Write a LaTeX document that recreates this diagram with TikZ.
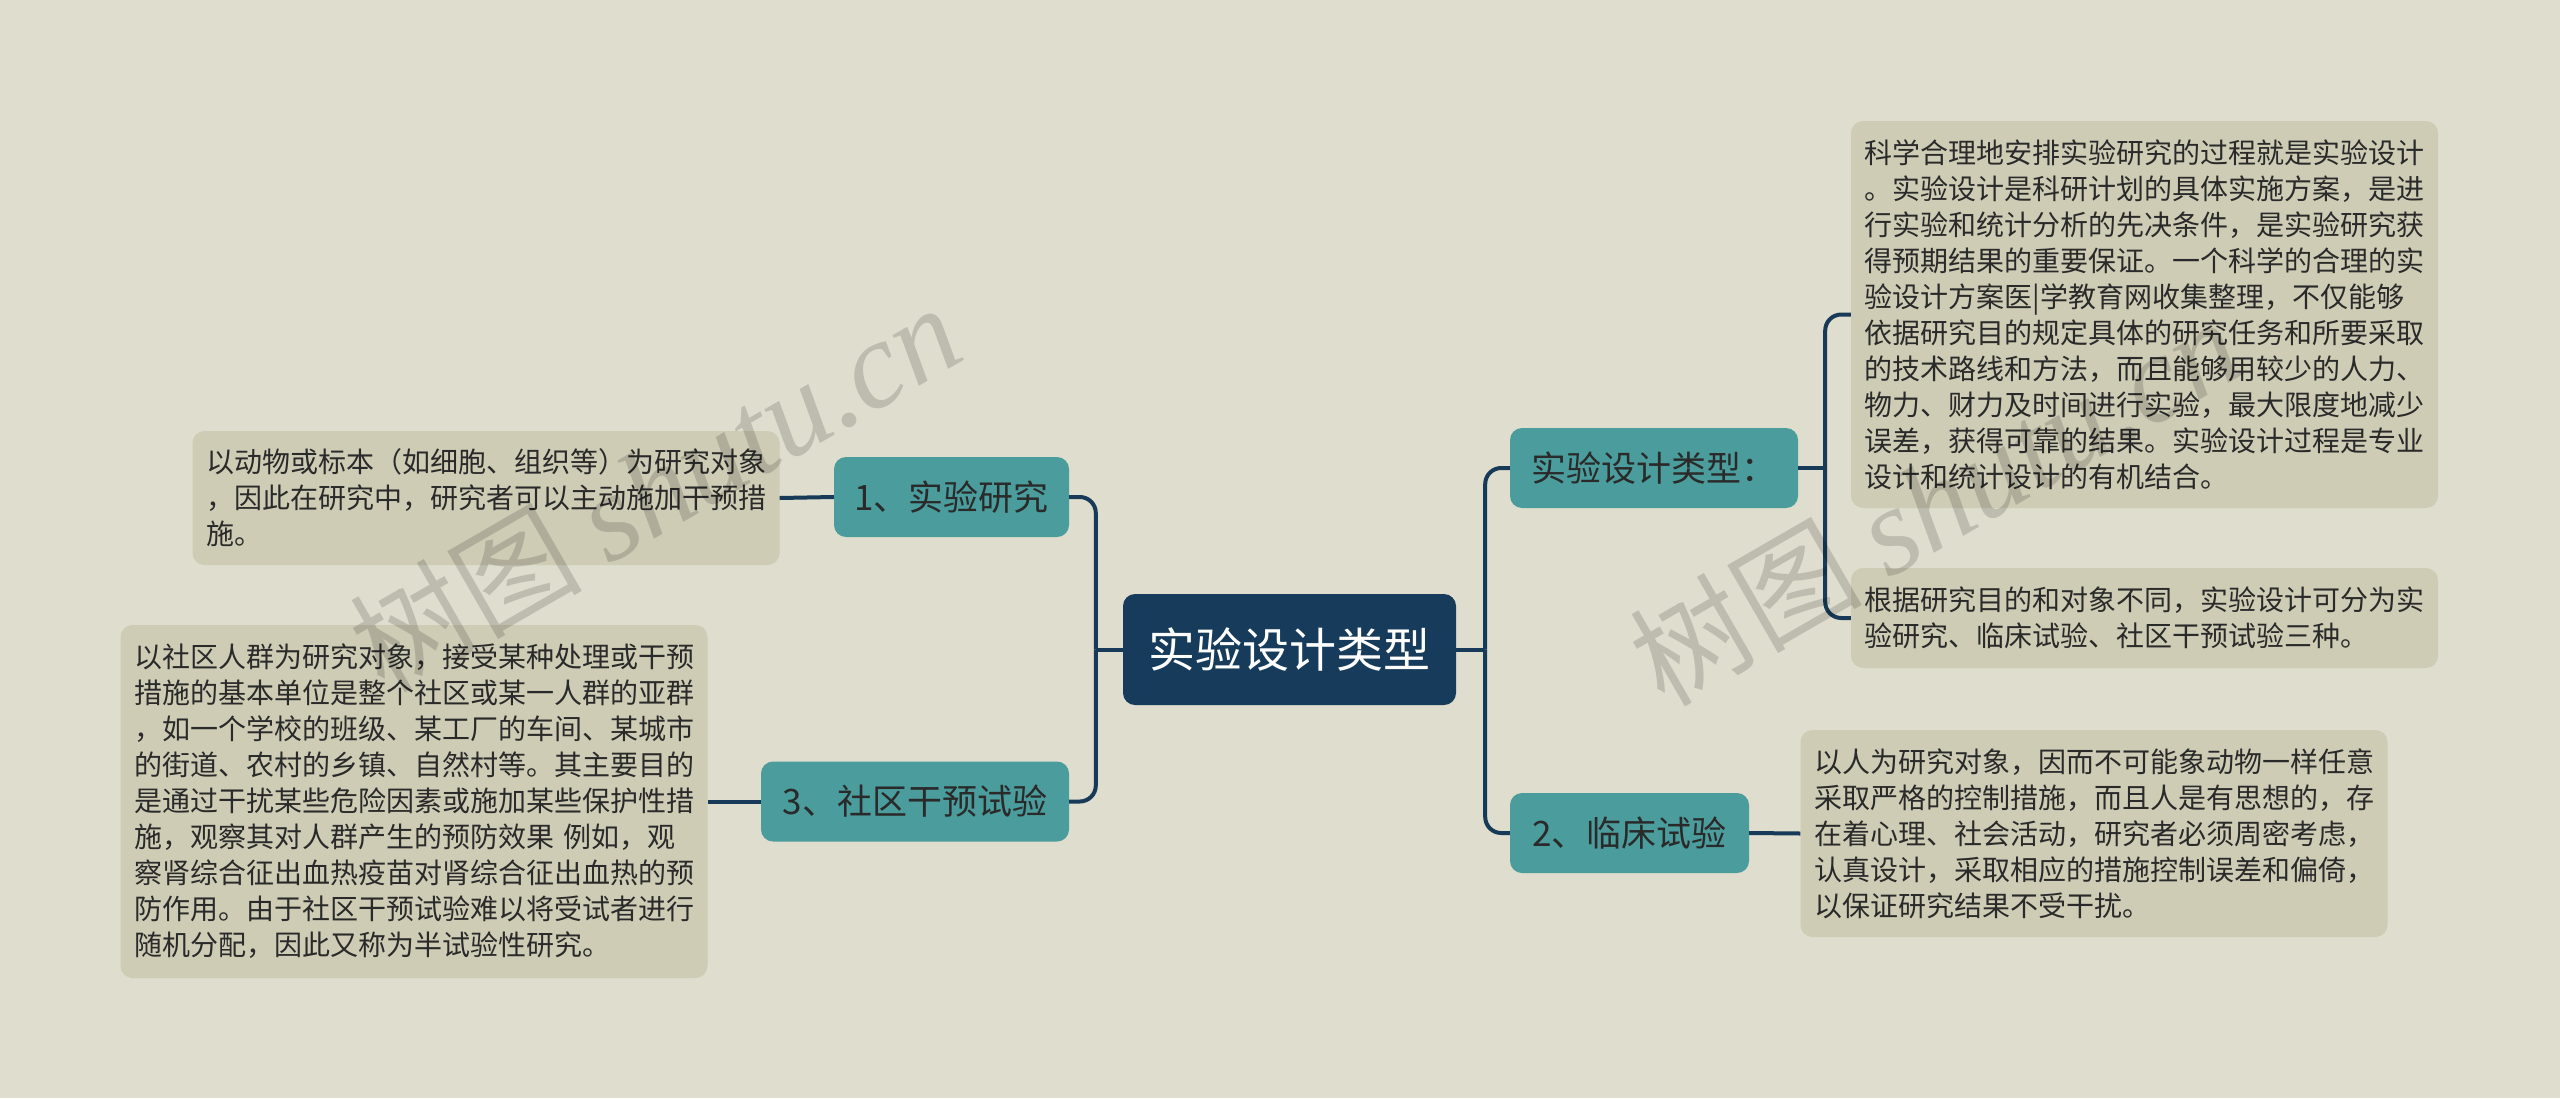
\documentclass[tikz,border=0pt]{standalone}
\usepackage{fontspec}
\newfontfamily\cjk{Noto Sans CJK SC}
\newfontfamily\wmserif{Liberation Serif}
\definecolor{bgc}{HTML}{DFDDCD}
\definecolor{boxc}{HTML}{CECCB5}
\definecolor{tealc}{HTML}{4B9C9C}
\definecolor{navyc}{HTML}{173C5B}
\definecolor{linec}{HTML}{163A58}
\definecolor{txtc}{HTML}{2A2A2A}
\tikzset{
  rootnode/.style={fill=navyc, rounded corners=12pt, inner sep=0pt, text=white,
    font=\cjk\fontsize{47}{56}\selectfont, minimum width=333pt, minimum height=111pt},
  subnode/.style={fill=tealc, rounded corners=12pt, inner sep=0pt, text=txtc,
    font=\cjk\fontsize{35}{42}\selectfont, minimum height=80pt},
  leafbox/.style={fill=boxc, rounded corners=12pt, inner xsep=13.5pt, inner ysep=0pt,
    text=txtc, font=\cjk\fontsize{28}{36}\selectfont, text width=560pt, align=left},
  conn/.style={draw=linec, line width=4pt, rounded corners=16pt},
  wmark/.style={text=black, text opacity=0.15, inner sep=0pt}
}
\begin{document}
\begin{tikzpicture}[x=1pt,y=-1pt]
\fill[bgc] (0,0) rectangle (2560,1098);
\useasboundingbox (0,0) rectangle (2560,1098);

% nodes
\node[rootnode] (c) at (1289.5,649.5) {实验设计类型};
\node[subnode, minimum width=288pt] (tA) at (1654,468) {实验设计类型：};
\node[subnode, minimum width=239pt] (t2) at (1629.5,833) {2、临床试验};
\node[subnode, minimum width=235pt] (t1) at (951.5,497) {1、实验研究};
\node[subnode, minimum width=308pt] (t3) at (915,801.5) {3、社区干预试验};

\node[leafbox, minimum height=387pt] (bA) at (2144.5,314.5) {科学合理地安排实验研究的过程就是实验设计\\。实验设计是科研计划的具体实施方案，是进\\行实验和统计分析的先决条件，是实验研究获\\得预期结果的重要保证。一个科学的合理的实\\验设计方案医|学教育网收集整理，不仅能够\\依据研究目的规定具体的研究任务和所要采取\\的技术路线和方法，而且能够用较少的人力、\\物力、财力及时间进行实验，最大限度地减少\\误差，获得可靠的结果。实验设计过程是专业\\设计和统计设计的有机结合。};
\node[leafbox, minimum height=100pt] (bB) at (2144.5,618) {根据研究目的和对象不同，实验设计可分为实\\验研究、临床试验、社区干预试验三种。};
\node[leafbox, minimum height=207pt] (bC) at (2094,833.5) {以人为研究对象，因而不可能象动物一样任意\\采取严格的控制措施，而且人是有思想的，存\\在着心理、社会活动，研究者必须周密考虑，\\认真设计，采取相应的措施控制误差和偏倚，\\以保证研究结果不受干扰。};
\node[leafbox, minimum height=134pt] (bD) at (486,498) {以动物或标本（如细胞、组织等）为研究对象\\，因此在研究中，研究者可以主动施加干预措\\施。};
\node[leafbox, minimum height=353pt] (bE) at (414,801.5) {以社区人群为研究对象，接受某种处理或干预\\措施的基本单位是整个社区或某一人群的亚群\\，如一个学校的班级、某工厂的车间、某城市\\的街道、农村的乡镇、自然村等。其主要目的\\是通过干扰某些危险因素或施加某些保护性措\\施，观察其对人群产生的预防效果 例如，观\\察肾综合征出血热疫苗对肾综合征出血热的预\\防作用。由于社区干预试验难以将受试者进行\\随机分配，因此又称为半试验性研究。};

% junctions
\path (c.east) ++(29,0) coordinate (jr);
\path (c.west) ++(-27,0) coordinate (jl);
\path (tA.east) ++(27,0) coordinate (ja);

% connectors
\draw[conn] (c.east) -- (jr);
\draw[conn] (jr) |- (tA.west);
\draw[conn] (jr) |- (t2.west);
\draw[conn] (c.west) -- (jl);
\draw[conn] (jl) |- (t1.east);
\draw[conn] (jl) |- (t3.east);
\draw[conn] (tA.east) -- (ja);
\draw[conn] (ja) |- (bA.west);
\draw[conn] (ja) |- (bB.west);
\draw[conn] (t2.east) -- (bC.west);
\draw[conn] (t1.west) -- (bD.east);
\draw[conn] (t3.west) -- (bE.east);

% watermarks
\node[wmark, rotate=30] (w1) at (655,488) {\cjk\fontsize{116}{116}\selectfont 树图 \wmserif\itshape\fontsize{124}{124}\selectfont shutu.cn};
\node[wmark, rotate=30] (w2) at (1935,502) {\cjk\fontsize{116}{116}\selectfont 树图 \wmserif\itshape\fontsize{124}{124}\selectfont shutu.cn};
\end{tikzpicture}
\end{document}
